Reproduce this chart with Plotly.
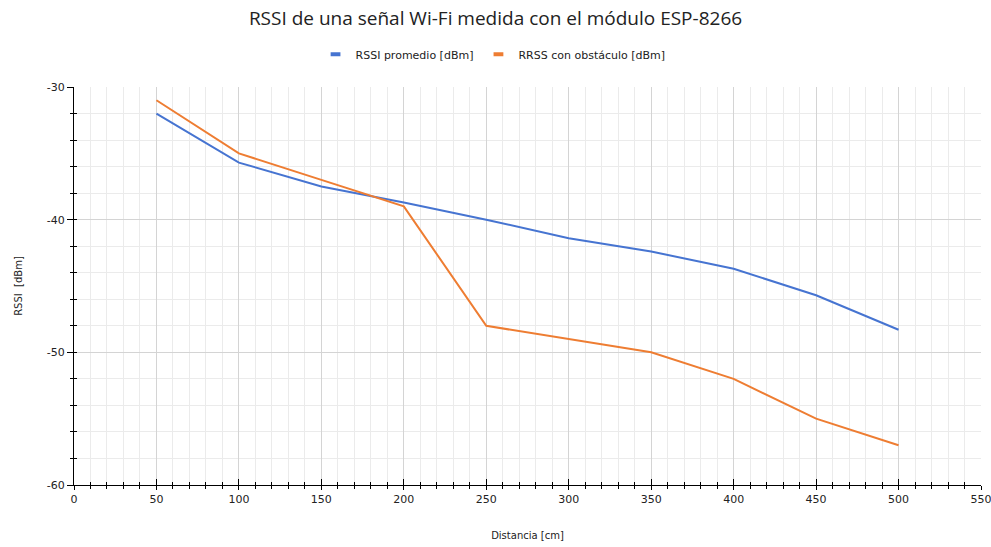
import plotly.graph_objects as go

# Distancia al módulo ESP-8266 [cm]
distancia = [50, 100, 150, 200, 250, 300, 350, 400, 450, 500]
# RSSI promedio sin obstáculo [dBm]
rssi_promedio = [-32.0, -35.7, -37.5, -38.7, -40.0, -41.4, -42.4, -43.7, -45.7, -48.3]
# RSSI con obstáculo [dBm]
rssi_obstaculo = [-31.0, -35.0, -37.0, -39.0, -48.0, -49.0, -50.0, -52.0, -55.0, -57.0]

# marcas principales de los ejes
marcas_x = [0, 50, 100, 150, 200, 250, 300, 350, 400, 450, 500, 550]
marcas_y = [-60, -50, -40, -30]

series = [
    ("RSSI promedio [dBm]", rssi_promedio, "#4674d1"),
    ("RRSS con obstáculo [dBm]", rssi_obstaculo, "#ee7d32"),
]

FUENTE = "DejaVu Sans, Verdana, sans-serif"
FUENTE_TITULO = "Open Sans, Noto Sans, sans-serif"

fig = go.Figure()
for nombre, valores, color in series:
    fig.add_trace(go.Scatter(x=distancia, y=valores, mode="lines", name=nombre,
                             line=dict(color=color, width=2), showlegend=False))
# entradas de leyenda con una barra corta y gruesa
for nombre, valores, color in series:
    fig.add_trace(go.Scatter(x=[None], y=[None], mode="markers", name=nombre,
                             marker=dict(symbol="line-ew", size=7,
                                         line=dict(color=color, width=4))))

eje_x = dict(range=[marcas_x[0], marcas_x[-1]], tickmode="array", tickvals=marcas_x,
             ticktext=[str(v) for v in marcas_x],
             showline=True, linecolor="black", linewidth=1, zeroline=False,
             automargin=False, ticklabeloverflow="allow",
             tickfont=dict(size=11, color="#222", family=FUENTE),
             gridcolor="#d4d4d4", gridwidth=1)
eje_y = dict(range=[marcas_y[0], marcas_y[-1]], tickmode="array", tickvals=marcas_y,
             ticktext=[str(v) for v in marcas_y],
             showline=True, linecolor="black", linewidth=1, zeroline=False,
             automargin=False, ticklabeloverflow="allow",
             tickfont=dict(size=11, color="#222", family=FUENTE),
             gridcolor="#d4d4d4", gridwidth=1)

fig.update_layout(
    width=991, height=547,
    margin=dict(l=74, r=10, t=87, b=62),
    paper_bgcolor="white", plot_bgcolor="white",
    font=dict(family=FUENTE, color="#222"),
    title=dict(text="RSSI de una señal Wi-Fi medida con el módulo ESP-8266",
               x=0.5, xanchor="center", y=0.967, yanchor="middle",
               font=dict(size=19, color="#222", family=FUENTE_TITULO)),
    legend=dict(orientation="h", x=0.462, xanchor="center", y=1.082, yanchor="middle",
                font=dict(size=11, color="#222", family=FUENTE), itemwidth=30,
                bgcolor="rgba(0,0,0,0)"),
    xaxis=dict(**eje_x,
               ticks="outside", ticklen=4, tickcolor="black",
               minor=dict(tick0=0, dtick=10, showgrid=True, gridcolor="#ebebeb",
                          ticks="outside", ticklen=3, tickcolor="black"),
               title=dict(text="Distancia [cm]", font=dict(size=10, family=FUENTE),
                          standoff=26)),
    yaxis=dict(**eje_y,
               ticks="outside", ticklen=6, tickcolor="black",
               minor=dict(tick0=-60, dtick=2, showgrid=True, gridcolor="#ebebeb",
                          ticks="outside", ticklen=3, tickcolor="black"),
               title=dict(text="RSSI  [dBm]", font=dict(size=10, family=FUENTE),
                          standoff=22)),
    # ejes superpuestos para que las marcas crucen la línea del eje
    xaxis2=dict(overlaying="x", range=[marcas_x[0], marcas_x[-1]], tickmode="array",
                tickvals=marcas_x, showgrid=False, zeroline=False, showticklabels=False,
                ticks="inside", ticklen=6, tickcolor="black", side="bottom",
                minor=dict(tick0=0, dtick=10, ticks="inside", ticklen=3,
                           tickcolor="black", showgrid=False)),
    yaxis2=dict(overlaying="y", range=[marcas_y[0], marcas_y[-1]], tickmode="array",
                tickvals=marcas_y, showgrid=False, zeroline=False, showticklabels=False,
                ticks="inside", ticklen=3, tickcolor="black", side="left",
                minor=dict(tick0=-60, dtick=2, ticks="inside", ticklen=3,
                           tickcolor="black", showgrid=False)),
)

# traza invisible que activa los ejes superpuestos
fig.add_trace(go.Scatter(x=[distancia[0]], y=[rssi_promedio[0]], xaxis="x2", yaxis="y2",
                         mode="markers", marker=dict(opacity=0), showlegend=False,
                         hoverinfo="skip"))

fig.write_html("out.html")
